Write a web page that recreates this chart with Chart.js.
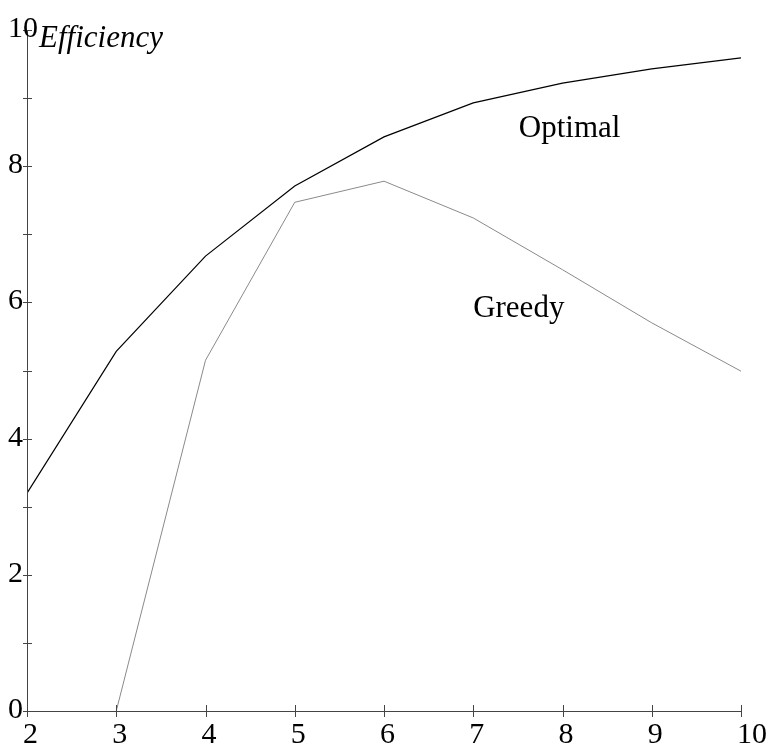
<!DOCTYPE html>
<html>
<head>
<meta charset="utf-8">
<style>
  html, body { margin: 0; padding: 0; background: #fff; }
  #wrap { width: 769px; height: 745px; }
</style>
</head>
<body>
<div id="wrap"><canvas id="effChart" width="769" height="745"></canvas></div>
<script src="https://cdn.jsdelivr.net/npm/chart.js"></script>
<script>
    // values
    const xValues = [2, 3, 4, 5, 6, 7, 8, 9, 10];
    const optimal = [3.2, 5.28, 6.68, 7.71, 8.43, 8.93, 9.22, 9.43, 9.59];
    const greedy = [null, 0, 5.15, 7.47, 7.78, 7.24, 6.48, 5.70, 4.99];
    const xTicks = [2, 3, 4, 5, 6, 7, 8, 9, 10];
    const yTicks = [0, 1, 2, 3, 4, 5, 6, 7, 8, 9, 10];
    const yLabels = [0, 2, 4, 6, 8, 10];

    const serif = '"Liberation Serif", "Times New Roman", serif';

    function toPoints(ys) {
        return xValues.map((x, i) => ({ x: x, y: ys[i] }));
    }

    // axes, ticks and text drawn by hand around the library's scales
    const axisPlugin = {
        id: 'axisPlugin',
        afterDraw(chart) {
            const ctx = chart.ctx;
            const xs = chart.scales.x;
            const ys = chart.scales.y;
            const left = xs.getPixelForValue(2);
            const right = xs.getPixelForValue(10);
            const top = ys.getPixelForValue(10);
            const bottom = ys.getPixelForValue(0);

            ctx.save();
            ctx.strokeStyle = '#444';
            ctx.lineWidth = 1;
            ctx.beginPath();
            ctx.moveTo(left + 0.5, top);
            ctx.lineTo(left + 0.5, bottom);
            ctx.moveTo(left, bottom + 0.5);
            ctx.lineTo(right, bottom + 0.5);
            yTicks.forEach(v => {
                const py = Math.round(ys.getPixelForValue(v)) + 0.5;
                ctx.moveTo(left - 4, py);
                ctx.lineTo(left + 5, py);
            });
            xTicks.forEach(v => {
                const px = Math.round(xs.getPixelForValue(v)) + 0.5;
                ctx.moveTo(px, bottom - 6);
                ctx.lineTo(px, bottom + 6);
            });
            ctx.stroke();

            ctx.fillStyle = '#000';
            ctx.font = '30px ' + serif;
            ctx.textBaseline = 'alphabetic';
            ctx.textAlign = 'left';
            yLabels.forEach(v => {
                ctx.fillText(String(v), 8, ys.getPixelForValue(v) + 7);
            });
            xTicks.forEach(v => {
                ctx.fillText(String(v), xs.getPixelForValue(v) - 4, bottom + 32);
            });

            ctx.font = 'italic 31px ' + serif;
            ctx.fillText('Efficiency', left + 12, top + 17);

            ctx.font = '31px ' + serif;
            ctx.textAlign = 'center';
            ctx.fillText('Optimal', xs.getPixelForValue(8.08), ys.getPixelForValue(8.43));
            ctx.fillText('Greedy', xs.getPixelForValue(7.51), ys.getPixelForValue(5.79));
            ctx.restore();
        }
    };

    const ctx = document.getElementById('effChart');
    const effChart = new Chart(ctx, {
        type: 'line',
        data: {
            datasets: [
                {
                    label: 'Optimal',
                    data: toPoints(optimal),
                    borderColor: '#000',
                    borderWidth: 1.2,
                    pointRadius: 0,
                    tension: 0,
                    fill: false
                },
                {
                    label: 'Greedy',
                    data: toPoints(greedy),
                    borderColor: '#8a8a8a',
                    borderWidth: 1,
                    pointRadius: 0,
                    tension: 0,
                    fill: false,
                    spanGaps: false
                }
            ]
        },
        options: {
            responsive: false,
            animation: false,
            layout: { padding: { left: 27, right: 28, top: 30, bottom: 34 } },
            plugins: {
                legend: { display: false },
                tooltip: { enabled: false }
            },
            scales: {
                x: { type: 'linear', min: 2, max: 10, display: false },
                y: { type: 'linear', min: 0, max: 10, display: false }
            }
        },
        plugins: [axisPlugin]
    });
</script>
</body>
</html>
